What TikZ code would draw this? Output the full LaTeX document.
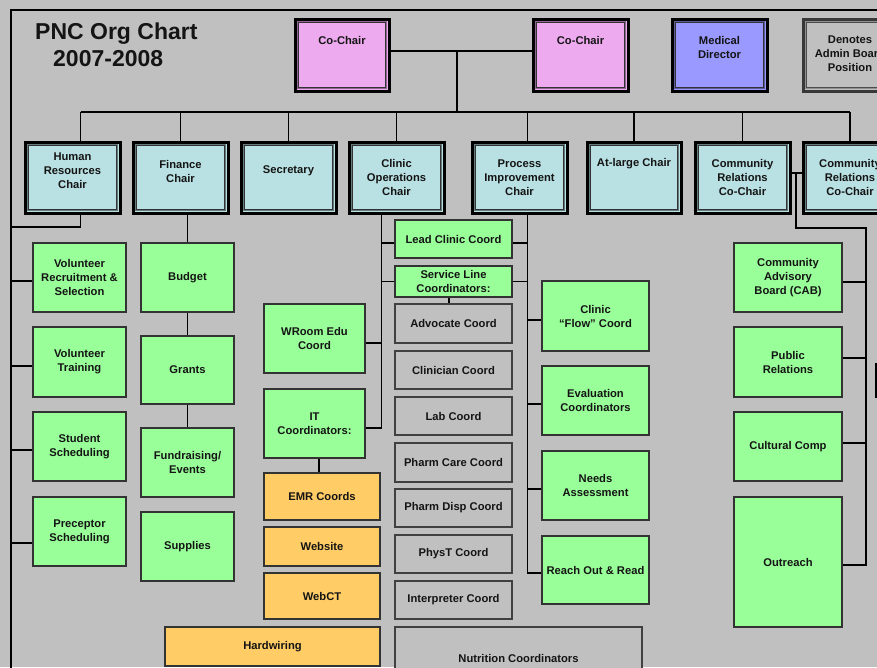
\documentclass[tikz,border=0pt]{standalone}
\usepackage{fontspec}
\setmainfont{Liberation Sans}
\usetikzlibrary{calc}

\definecolor{bg}{HTML}{C0C0C0}
\definecolor{pinkbox}{HTML}{EDAAEF}
\definecolor{bluebox}{HTML}{9999FF}
\definecolor{cyanbox}{HTML}{B9E0E3}
\definecolor{greenbox}{HTML}{99FF99}
\definecolor{orangebox}{HTML}{FFCC66}

% box with centred text: style, name, x1, y1, x2, y2, text
\newcommand{\obox}[7]{%
  \pgfmathsetmacro\obW{#5-#3}\pgfmathsetmacro\obH{#6-#4}%
  \pgfmathsetmacro\obX{(#3+#5)/2}\pgfmathsetmacro\obY{(#4+#6)/2}%
  \node[#1, minimum width=\obW pt, minimum height=\obH pt] (#2) at (\obX,\obY) {#7};}
% box with text set at a given height: style, name, x1, y1, x2, y2, text y, text
\newcommand{\tbox}[8]{%
  \pgfmathsetmacro\obW{#5-#3}\pgfmathsetmacro\obH{#6-#4}%
  \pgfmathsetmacro\obX{(#3+#5)/2}\pgfmathsetmacro\obY{(#4+#6)/2}%
  \node[#1, minimum width=\obW pt, minimum height=\obH pt] (#2) at (\obX,\obY) {};
  \node[txt] (#2-t) at (\obX,#7) {#8};}
% horizontal branch from a box side to a vertical bus: bus, anchor, yshift
\newcommand{\branch}[3]{%
  \path ([yshift=#3pt]#2) coordinate (brpt);
  \draw[conn] (brpt) -- (brpt -| #1);}

\tikzset{
  txt/.style={font=\fontsize{11.2}{14}\selectfont\bfseries, align=center, text=black!92, inner sep=0pt},
  frame/.style n args={4}{fill=#1, draw=#2, line width=3pt, inner sep=0pt,
    path picture={
      \draw[line width=1.4pt, draw=#3]
        ([shift={(2.4pt,2.4pt)}]path picture bounding box.south west) rectangle
        ([shift={(-2.4pt,-2.4pt)}]path picture bounding box.north east);
      \draw[line width=1.1pt, draw=#4]
        ([shift={(3.9pt,3.9pt)}]path picture bounding box.south west) rectangle
        ([shift={(-3.9pt,-3.9pt)}]path picture bounding box.north east);
    }},
  chair/.style={frame={cyanbox}{black}{black!45!cyanbox}{black!80}},
  cochair/.style={frame={pinkbox}{black}{black!40!pinkbox}{black!80}},
  meddir/.style={frame={bluebox}{black}{black!40!bluebox}{black!80}},
  legend/.style={frame={bg}{black!78}{black!25!bg}{black!70}},
  green/.style={txt, fill=greenbox, draw=black!80, line width=1.3pt},
  orange/.style={txt, fill=orangebox, draw=black!80, line width=1.3pt},
  grayb/.style={txt, fill=bg, draw=black!75, line width=1.3pt},
  conn/.style={draw=black, line width=1.6pt},
  title/.style={font=\fontsize{23}{27}\selectfont\bfseries, text=black!92, inner sep=0pt, anchor=base west},
}

\begin{document}
\begin{tikzpicture}[x=1pt, y=-1pt]
\useasboundingbox (0,0) rectangle (877,667);
\clip (0,0) rectangle (877,667);
\fill[bg] (0,0) rectangle (877,667);

% outer frame
\coordinate (frameTL) at (11,10);
\draw[line width=2.4pt] (frameTL |- 0,680) -- (frameTL) -- (890,10);

% title
\node[title] (title1) at (35,39) {PNC Org Chart};
\node[title] (title2) at (53,66) {2007-2008};

% top row
\tbox{cochair}{cc1}{295}{19}{389}{91}{40}{Co-Chair}
\tbox{cochair}{cc2}{533}{19}{628}{91}{40}{Co-Chair}
\tbox{meddir}{med}{672}{19}{767}{91}{47}{Medical\\Director}
\tbox{legend}{den}{803}{19}{897}{91}{54}{Denotes\\Admin Board\\Position}

% chairs
\tbox{chair}{hr}{25}{142}{120}{213}{170.5}{Human\\Resources\\Chair}
\tbox{chair}{fin}{133}{142}{228}{213}{171}{Finance\\Chair}
\tbox{chair}{sec}{241}{142}{336}{213}{171}{Secretary}
\tbox{chair}{cops}{349}{142}{444}{213}{177.5}{Clinic\\Operations\\Chair}
\tbox{chair}{proc}{472}{142}{567}{213}{177.5}{Process\\Improvement\\Chair}
\tbox{chair}{atl}{587}{142}{681}{213}{164}{At-large Chair}
\tbox{chair}{cr1}{695}{142}{790}{213}{177.5}{Community\\Relations\\Co-Chair}
\tbox{chair}{cr2}{803}{142}{897}{213}{177.5}{Community\\Relations\\Co-Chair}

% human resources
\obox{green}{vrs}{33}{243}{126}{312}{Volunteer\\Recruitment \&\\Selection}
\obox{green}{vt}{33}{327}{126}{397}{Volunteer\\Training}
\obox{green}{ss}{33}{412}{126}{481}{Student\\Scheduling}
\obox{green}{ps}{33}{497}{126}{566}{Preceptor\\Scheduling}

% finance
\obox{green}{bud}{141}{243}{234}{312}{Budget}
\obox{green}{gra}{141}{336}{234}{404}{Grants}
\obox{green}{fun}{141}{428}{234}{497}{Fundraising/\\Events}
\obox{green}{sup}{141}{512}{234}{581}{Supplies}

% clinic operations
\obox{green}{wroom}{264}{304}{365}{373}{WRoom Edu\\Coord}
\obox{green}{itc}{264}{389}{365}{458}{IT\\Coordinators:}
\obox{orange}{emr}{264}{473}{380}{520}{EMR Coords}
\obox{orange}{web}{264}{527}{380}{566}{Website}
\obox{orange}{wct}{264}{573}{380}{619}{WebCT}
\obox{orange}{hw}{165}{627}{380}{666}{Hardwiring}

\obox{green}{lead}{395}{220}{512}{258}{Lead Clinic Coord}
\obox{green}{svc}{395}{266}{512}{297}{Service Line\\Coordinators:}
\obox{grayb}{adv}{395}{304}{512}{343}{Advocate Coord}
\obox{grayb}{cli}{395}{351}{512}{389}{Clinician Coord}
\obox{grayb}{lab}{395}{397}{512}{435}{Lab Coord}
\obox{grayb}{phc}{395}{443}{512}{482}{Pharm Care Coord}
\obox{grayb}{phd}{395}{489}{512}{527}{Pharm Disp Coord}
\obox{grayb}{pht}{395}{535}{512}{573}{PhysT Coord}
\obox{grayb}{int}{395}{581}{512}{619}{Interpreter Coord}
\obox{grayb}{nut}{395}{627}{642}{690}{Nutrition Coordinators}

% process improvement
\obox{green}{flow}{542}{281}{649}{351}{Clinic\\“Flow” Coord}
\obox{green}{eval}{542}{366}{649}{435}{Evaluation\\Coordinators}
\obox{green}{needs}{542}{451}{649}{520}{Needs\\Assessment}
\obox{green}{reach}{542}{536}{649}{604}{Reach Out \& Read}

% community relations
\obox{green}{cab}{734}{243}{842}{312}{Community\\Advisory\\Board (CAB)}
\obox{green}{pr}{734}{327}{842}{397}{Public\\Relations}
\obox{green}{cult}{734}{412}{842}{481}{Cultural Comp}
\obox{green}{outr}{734}{497}{842}{627}{Outreach}

% partial box at the right edge
\fill[black] (875,363) rectangle (882,398);

% ---- connectors ----
% co-chairs and the main bus
\coordinate (ccj) at (457,51);
\coordinate (busT) at (457,112);
\draw[conn] ([yshift=4pt]cc1.east) -- ([yshift=4pt]cc2.west);
\draw[conn] (ccj) -- (busT);
\path ([xshift=8pt]hr.north) coordinate (hrN) ([xshift=8pt]proc.north) coordinate (procN);
\draw[conn] (hrN |- busT) -- (cr2.north |- busT);
\foreach \n in {hrN, fin.north, sec.north, cops.north, procN, atl.north, cr1.north, cr2.north}
  \draw[conn] (\n |- busT) -- (\n);

% human resources (bus runs along the frame)
\path ([xshift=8pt]hr.south) coordinate (hrS);
\coordinate (hrbus) at (11,227);
\draw[conn] (hrS) |- (hrbus);
\branch{hrbus}{vrs.west}{-3.5}
\branch{hrbus}{vt.west}{-4}
\branch{hrbus}{ss.west}{-3.5}
\branch{hrbus}{ps.west}{-11.5}

% finance
\draw[conn] (bud.north |- fin.south) -- (bud.north);
\draw[conn] (bud.south) -- (gra.north);
\draw[conn] (gra.south) -- (fun.north);

% clinic operations
\path ([xshift=-15pt]cops.south) coordinate (coS);
\path ([yshift=-4.5pt]itc.east) coordinate (itB);
\draw[conn] (coS) -- (coS |- itB) -- (itB);
\branch{coS}{lead.west}{-4}
\branch{coS}{svc.west}{0}
\branch{coS}{wroom.east}{-4.5}
\draw[conn] ([xshift=-4.5pt]svc.south) -- ([xshift=-4.5pt]adv.north);
\draw[conn] ([xshift=4.5pt]itc.south) -- ([xshift=-3pt]emr.north);

% process improvement
\path ([xshift=8pt]proc.south) coordinate (prS);
\path ([yshift=-3pt]reach.west) coordinate (rdB);
\draw[conn] (prS) -- (prS |- rdB) -- (rdB);
\branch{prS}{lead.east}{-4}
\branch{prS}{svc.east}{0}
\branch{prS}{flow.west}{-4}
\branch{prS}{eval.west}{-3.5}
\branch{prS}{needs.west}{-3.5}

% community relations
\draw[conn] ([yshift=4.5pt]cr1.east) -- ([yshift=4.5pt]cr2.west);
\coordinate (crj) at (796,173);
\coordinate (crk) at (866,228);
\path ([yshift=-3pt]outr.east) coordinate (ouB);
\draw[conn] (crj) |- (crk) -- (crk |- ouB) -- (ouB);
\branch{crk}{cab.east}{-4.5}
\branch{crk}{pr.east}{4}
\branch{crk}{cult.east}{3.5}
\end{tikzpicture}
\end{document}
